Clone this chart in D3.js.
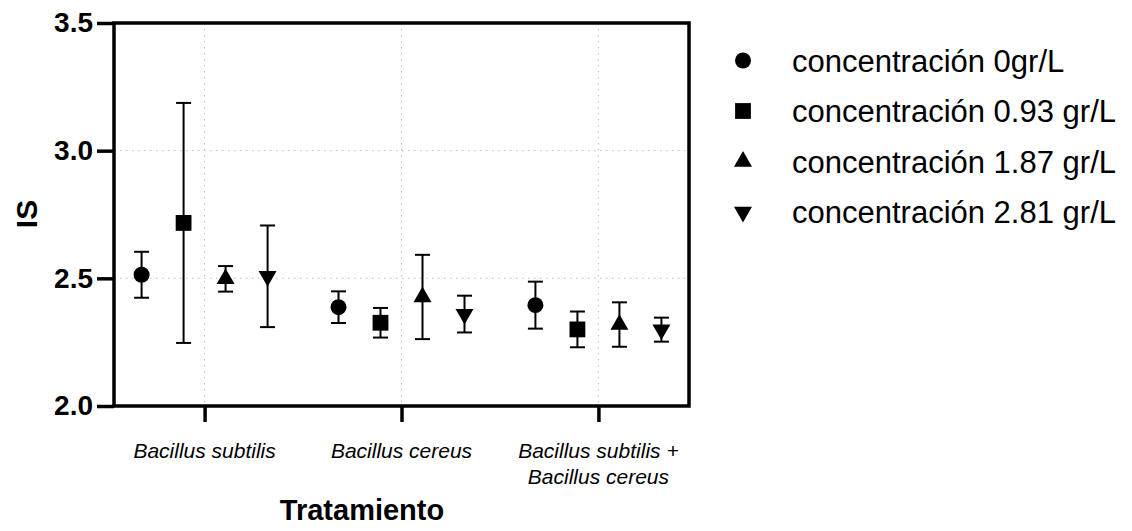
<!DOCTYPE html>
<html>
<head>
<meta charset="utf-8">
<script src="https://cdn.jsdelivr.net/npm/d3@7"></script>
<style>
  body { margin: 0; background: #fff; }
  svg { font-family: "Liberation Sans", Arial, sans-serif; }
</style>
</head>
<body>
<div id="chart"></div>
<script>
// categories (x axis) and series (legend)
const categories = ['Bacillus subtilis', 'Bacillus cereus', 'Bacillus subtilis + Bacillus cereus'];
const categoryLines = [['Bacillus subtilis'], ['Bacillus cereus'], ['Bacillus subtilis +', 'Bacillus cereus']];
const seriesNames = ['concentración 0gr/L', 'concentración 0.93 gr/L', 'concentración 1.87 gr/L', 'concentración 2.81 gr/L'];

// mean IS per series, one value per category
const mean0 = [2.514, 2.387, 2.395];
const mean093 = [2.717, 2.326, 2.300];
const mean187 = [2.498, 2.427, 2.319];
const mean281 = [2.508, 2.360, 2.299];

// error (SD) per series
const err0 = [0.090, 0.062, 0.092];
const err093 = [0.470, 0.058, 0.070];
const err187 = [0.050, 0.165, 0.087];
const err281 = [0.199, 0.072, 0.047];

const yTicks = [2.0, 2.5, 3.0, 3.5];

const means = [mean0, mean093, mean187, mean281];
const errs = [err0, err093, err187, err281];

const width = 1132, height = 531;
const margin = { top: 23, right: 443, bottom: 125, left: 114 };

const svg = d3.select('#chart').append('svg')
  .attr('width', width)
  .attr('height', height);

const x = d3.scalePoint()
  .domain(categories)
  .range([margin.left, width - margin.right])
  .padding(0.46);

const offset = d3.scalePoint()
  .domain(seriesNames)
  .range([-63, 63]);

const y = d3.scaleLinear()
  .domain([2, 3.5])
  .range([height - margin.bottom, margin.top]);

const symbols = [
  d3.symbol().type(d3.symbolCircle).size(200),
  d3.symbol().type(d3.symbolSquare).size(250),
  d3.symbol().type(d3.symbolTriangle).size(140),
  d3.symbol().type(d3.symbolTriangle).size(140)
];
const rotations = [0, 0, 0, 180];

// grid
const grid = svg.append('g')
  .attr('stroke', '#bdbdbd')
  .attr('stroke-width', 1)
  .attr('stroke-dasharray', '1.5,4.5');

grid.selectAll('.hg')
  .data(yTicks.slice(1))
  .enter()
  .append('line')
  .attr('x1', margin.left)
  .attr('x2', width - margin.right)
  .attr('y1', d => y(d))
  .attr('y2', d => y(d));

grid.selectAll('.vg')
  .data(categories)
  .enter()
  .append('line')
  .attr('x1', d => x(d))
  .attr('x2', d => x(d))
  .attr('y1', margin.top)
  .attr('y2', height - margin.bottom);

// flatten data points
const points = [];
seriesNames.forEach((s, si) => {
  categories.forEach((c, ci) => {
    points.push({ s, si, c, mean: means[si][ci], err: errs[si][ci] });
  });
});

// error bars
const bars = svg.append('g')
  .attr('stroke', '#000')
  .attr('stroke-width', 2)
  .selectAll('g')
  .data(points)
  .enter()
  .append('g')
  .attr('transform', d => `translate(${x(d.c) + offset(d.s)},0)`);

bars.append('line')
  .attr('y1', d => y(d.mean - d.err))
  .attr('y2', d => y(d.mean + d.err));

bars.append('line')
  .attr('x1', -7.5).attr('x2', 7.5)
  .attr('y1', d => y(d.mean + d.err))
  .attr('y2', d => y(d.mean + d.err));

bars.append('line')
  .attr('x1', -7.5).attr('x2', 7.5)
  .attr('y1', d => y(d.mean - d.err))
  .attr('y2', d => y(d.mean - d.err));

// markers
svg.append('g')
  .selectAll('path')
  .data(points)
  .enter()
  .append('path')
  .attr('d', d => symbols[d.si]())
  .attr('fill', '#000')
  .attr('transform', d => `translate(${x(d.c) + offset(d.s)},${y(d.mean)}) rotate(${rotations[d.si]})`);

// frame
svg.append('rect')
  .attr('x', margin.left)
  .attr('y', margin.top)
  .attr('width', width - margin.left - margin.right)
  .attr('height', height - margin.top - margin.bottom)
  .attr('fill', 'none')
  .attr('stroke', '#000')
  .attr('stroke-width', 3.5);

// y axis
const yAxis = svg.append('g')
  .attr('transform', `translate(${margin.left},0)`)
  .call(d3.axisLeft(y).tickValues(yTicks).tickFormat(d3.format('.1f')).tickSize(17).tickPadding(4));
yAxis.select('.domain').remove();
yAxis.selectAll('.tick line').attr('stroke-width', 3.5);
yAxis.selectAll('.tick text')
  .attr('font-family', '"Liberation Sans", Arial, sans-serif')
  .attr('font-size', 28)
  .attr('font-weight', 'bold')
  .attr('fill', '#000');

// x axis
const xAxis = svg.append('g')
  .attr('transform', `translate(0,${height - margin.bottom})`)
  .call(d3.axisBottom(x).tickSize(16).tickFormat(''));
xAxis.select('.domain').remove();
xAxis.selectAll('.tick line').attr('stroke-width', 3.5);

const catLabels = svg.append('g')
  .attr('font-size', 21)
  .attr('font-style', 'italic')
  .attr('text-anchor', 'middle')
  .selectAll('text')
  .data(categories)
  .enter()
  .append('text')
  .attr('x', d => x(d))
  .attr('y', 458);

catLabels.selectAll('tspan')
  .data((d, i) => categoryLines[i])
  .enter()
  .append('tspan')
  .attr('x', function () { return d3.select(this.parentNode).attr('x'); })
  .attr('dy', (d, i) => i === 0 ? 0 : 26)
  .text(d => d);

// axis titles
svg.append('text')
  .attr('x', 362)
  .attr('y', 520)
  .attr('text-anchor', 'middle')
  .attr('font-size', 29)
  .attr('font-weight', 'bold')
  .text('Tratamiento');

svg.append('text')
  .attr('transform', 'translate(37,214) rotate(-90)')
  .attr('text-anchor', 'middle')
  .attr('font-size', 30)
  .attr('font-weight', 'bold')
  .text('IS');

// legend
const legend = svg.append('g')
  .selectAll('g')
  .data(seriesNames)
  .enter()
  .append('g')
  .attr('transform', (d, i) => `translate(743,${71.5 + i * 50.5})`);

legend.append('path')
  .attr('d', (d, i) => symbols[i]())
  .attr('fill', '#000')
  .attr('transform', (d, i) => `translate(0,-11) rotate(${rotations[i]})`);

legend.append('text')
  .attr('x', 49)
  .attr('font-size', 31)
  .text(d => d);
</script>
</body>
</html>
